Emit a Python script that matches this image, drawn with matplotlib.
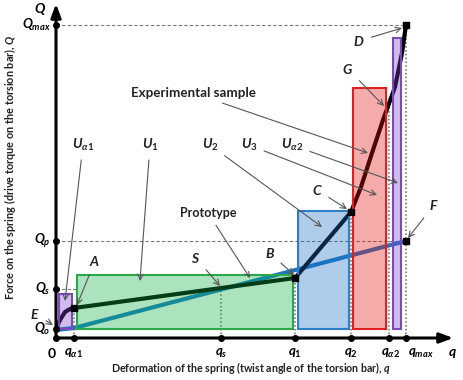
import numpy as np
import matplotlib
matplotlib.use("Agg")
import matplotlib.pyplot as plt
from matplotlib.patches import Rectangle

plt.rcParams['font.family'] = ['Lato', 'DejaVu Sans']
plt.rcParams['mathtext.fontset'] = 'custom'
plt.rcParams['mathtext.it'] = 'Lato:bold:italic'
plt.rcParams['mathtext.rm'] = 'Lato:bold'
plt.rcParams['mathtext.bf'] = 'Lato:bold'

# tick positions on the axes
q_names = [r'$q_{α1}$', r'$q_s$', r'$q_1$', r'$q_2$', r'$q_{α2}$', r'$q_{max}$']
q_vals = [18, 165, 239, 295, 333, 350]
Q_names = [r'$Q_o$', r'$Q_s$', r'$Q_p$', r'$Q_{max}$']
Q_vals = [9, 49, 97, 313]

# experimental sample curve
exp_q = [0, 4, 9, 14, 18, 239, 295, 305, 316, 327, 339, 346, 350]
exp_Q = [9, 18, 26, 29, 30, 60, 126, 151, 185, 218, 251, 285, 313]

# prototype line
pro_q = [0, 18, 350]
pro_Q = [8, 10, 97]

# work areas: label, left, right, top (bottom is Q0)
rect_names = [r'$U_{α1}$', r'$U_1$', r'$U_2$', r'$U_3$', r'$U_{α2}$']
rect_left = [3, 21, 242, 297, 337]
rect_right = [16, 237, 293, 330, 345]
rect_top = [44, 63, 127, 250, 300]
rect_face = ['#7a3dc8', '#11b04a', '#1a6fc4', '#e81010', '#7a3dc8']
rect_edge = ['#7a4ab8', '#2aa84a', '#2f7fc8', '#e02020', '#7a4ab8']

fig = plt.figure(figsize=(4.63, 3.80), dpi=100)
ax = fig.add_axes([0, 0, 1, 1])
ax.set_xlim(-56, 407)
ax.set_ylim(-42, 338)
ax.axis('off')

def curve_at(x):
    return np.interp(x, exp_q, exp_Q)

# guide lines
ax.plot([0, q_vals[5]], [Q_vals[3], Q_vals[3]], ls=(0, (3, 2)), color='#777', lw=0.8, zorder=1)
ax.plot([0, q_vals[5]], [Q_vals[2], Q_vals[2]], ls=(0, (3, 2)), color='#777', lw=0.8, zorder=1)
ax.plot([0, 21], [Q_vals[1], Q_vals[1]], ls=(0, (3, 2)), color='#777', lw=0.8, zorder=1)
tops = [curve_at(q_vals[0]), Q_vals[1], curve_at(q_vals[2]), curve_at(q_vals[3]),
        curve_at(q_vals[4]), Q_vals[3]]
for x, t in zip(q_vals, tops):
    ax.plot([x, x], [0, t], ls=(0, (1, 1.5)), color='#666', lw=1.1, zorder=1)

# curves
ax.plot(pro_q, pro_Q, color='#1a78c2', lw=3, zorder=2, solid_capstyle='butt')
ax.plot(exp_q, exp_Q, color='black', lw=3, zorder=2.5, solid_capstyle='butt')

for l, r, t, fc, ec in zip(rect_left, rect_right, rect_top, rect_face, rect_edge):
    ax.add_patch(Rectangle((l, Q_vals[0]), r - l, t - Q_vals[0], facecolor=fc,
                           alpha=0.35, edgecolor='none', zorder=3))
    ax.add_patch(Rectangle((l, Q_vals[0]), r - l, t - Q_vals[0], facecolor='none',
                           edgecolor=ec, lw=1.5, zorder=3.1))

# axes with arrows
ax.annotate('', xy=(400, 0), xytext=(-1, 0),
            arrowprops=dict(arrowstyle='-|>,head_length=0.8,head_width=0.3', lw=2.2, color='black'), zorder=5)
ax.annotate('', xy=(0, 337), xytext=(0, -1),
            arrowprops=dict(arrowstyle='-|>,head_length=0.8,head_width=0.3', lw=2.2, color='black'), zorder=5)

# points
ax.scatter(q_vals, [0] * len(q_vals), s=16, color='black', zorder=6)
ax.scatter([0] * len(Q_vals) + [0], Q_vals + [0], s=16, color='black', zorder=6)
ax.scatter([exp_q[4], q_vals[2], q_vals[3], q_vals[5]],
           [exp_Q[4], curve_at(q_vals[2]), curve_at(q_vals[3]), Q_vals[3]],
           s=20, marker='s', color='black', zorder=6)
ax.scatter([pro_q[2]], [pro_Q[2]], s=22, marker='s', color='black', zorder=6)

# tick labels
q_label_x = [18, 165, 239, 295, 335, 365]
for x, name in zip(q_label_x, q_names):
    ax.text(x, -15, name, ha='center', va='center', fontsize=9.5)
ax.text(-4, -15, r'$0$', ha='center', va='center', fontsize=10)
for y, name in zip(Q_vals, Q_names):
    ax.text(-5, y, name, ha='right', va='center', fontsize=9.5)
ax.text(-16, 329, r'$Q$', ha='center', va='center', fontsize=10)
ax.text(396, -15, r'$q$', ha='center', va='center', fontsize=10)

ax.text(195, -30, 'Deformation of the spring (twist angle of the torsion bar), $q$',
        ha='center', va='center', fontsize=7.7, fontweight='bold', color='#222')
ax.text(-46, 171, 'Force on the spring (drive torque on the torsion bar), $Q$',
        ha='center', va='center', rotation=90, fontsize=7.8, fontweight='bold', color='#222')

arrow = dict(arrowstyle='->', color='#555', lw=0.8, shrinkA=3, shrinkB=0)

def note(text, xy, xytext, size=10):
    ax.annotate(text, xy=xy, xytext=xytext, ha='center', va='center',
                fontsize=size, fontweight='bold', color='#222',
                arrowprops=arrow, zorder=7)

note(r'$E$', (-3, 13), (-21, 24))
note(r'$A$', (21, 33), (39, 77))
note(r'$S$', (164, 52), (140, 80))
note(r'$B$', (238, 63), (214, 85))
note(r'$C$', (291, 129), (261, 148))
note(r'$D$', (346, 310), (303, 297))
note(r'$G$', (328, 232), (292, 269))
note(r'$F$', (352, 100), (378, 133))
note('Prototype', (194, 60), (152, 125), size=9)
note('Experimental sample', (312, 185), (137, 245), size=9.6)

rect_text = [(27, 193), (94, 193), (154, 193), (193, 193), (236, 193)]
rect_head = [(9, 37), (84, 57), (266, 111), (321, 143), (342, 155)]
for name, t, h in zip(rect_names, rect_text, rect_head):
    note(name, h, t)

fig.savefig('out.png', dpi=100)
